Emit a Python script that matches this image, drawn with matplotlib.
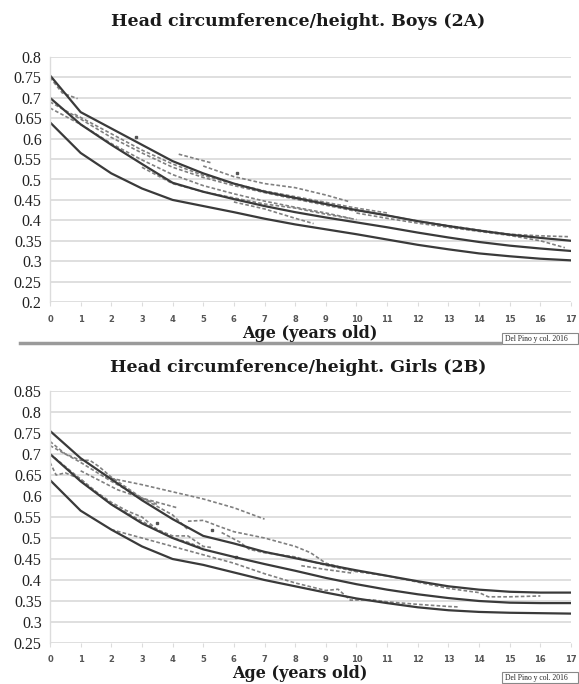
import matplotlib
matplotlib.use("Agg")
import matplotlib.pyplot as plt
from matplotlib.patches import Rectangle
from matplotlib.lines import Line2D

# ---------------- data: Boys (2A) ----------------
ages = list(range(0, 18))
boys_upper = [0.755, 0.665, 0.625, 0.585, 0.545, 0.515, 0.49, 0.47, 0.455, 0.44,
              0.425, 0.412, 0.398, 0.386, 0.375, 0.365, 0.357, 0.35]
boys_mid = [0.70, 0.635, 0.585, 0.538, 0.492, 0.47, 0.452, 0.435, 0.42, 0.407,
            0.395, 0.383, 0.37, 0.358, 0.347, 0.338, 0.331, 0.325]
boys_low = [0.64, 0.565, 0.515, 0.478, 0.45, 0.435, 0.42, 0.404, 0.39, 0.378,
            0.366, 0.353, 0.34, 0.329, 0.319, 0.312, 0.306, 0.302]

boys_dash_x = [
    [0, 0.4, 0.9],
    [0, 1, 2, 3, 4, 5, 6, 7, 8, 9, 10],
    [0, 1, 2, 3, 4, 5, 6, 7, 8, 9, 9.8],
    [0.8, 2, 3, 4, 5, 6, 7, 8, 9, 10, 11],
    [4.2, 5.3],
    [5, 6, 7, 8, 9, 9.8],
    [6, 7, 8, 8.6],
    [10, 11, 12, 13, 14, 15, 16, 16.9],
    [10, 11, 12, 13, 14, 15, 16, 16.8],
    [3, 4, 5, 6, 7, 8, 9, 10],
]
boys_dash_y = [
    [0.75, 0.712, 0.698],
    [0.69, 0.648, 0.603, 0.565, 0.53, 0.505, 0.485, 0.468, 0.452, 0.437, 0.422],
    [0.675, 0.635, 0.588, 0.548, 0.512, 0.485, 0.465, 0.447, 0.432, 0.418, 0.405],
    [0.66, 0.612, 0.572, 0.538, 0.51, 0.49, 0.472, 0.458, 0.444, 0.43, 0.418],
    [0.562, 0.54],
    [0.533, 0.507, 0.49, 0.48, 0.462, 0.445],
    [0.445, 0.428, 0.405, 0.392],
    [0.425, 0.412, 0.398, 0.387, 0.376, 0.366, 0.362, 0.36],
    [0.418, 0.405, 0.393, 0.383, 0.373, 0.363, 0.35, 0.333],
    [0.53, 0.49, 0.47, 0.455, 0.44, 0.43, 0.415, 0.402],
]
boys_dots_x = [2.8, 6.1]
boys_dots_y = [0.603, 0.515]

# ---------------- data: Girls (2B) ----------------
girls_upper = [0.755, 0.69, 0.64, 0.59, 0.545, 0.505, 0.487, 0.467, 0.452, 0.437,
               0.423, 0.41, 0.397, 0.385, 0.377, 0.372, 0.37, 0.37]
girls_mid = [0.70, 0.635, 0.58, 0.535, 0.50, 0.473, 0.455, 0.438, 0.422, 0.405,
             0.39, 0.377, 0.366, 0.357, 0.35, 0.346, 0.345, 0.345]
girls_low = [0.638, 0.565, 0.52, 0.48, 0.45, 0.436, 0.418, 0.40, 0.385, 0.37,
             0.356, 0.345, 0.335, 0.328, 0.324, 0.322, 0.321, 0.32]

girls_dash_x = [
    [1.8, 3, 4, 5, 6, 7],
    [1.0, 2.2, 3, 4.15],
    [4.5, 5.0, 5.5, 6, 7, 8, 8.5, 9, 9.5, 10],
    [5.6, 6.2, 6.5, 7, 8, 9, 10, 11, 12, 13, 14, 14.3, 15, 16],
    [2, 3, 4, 5, 6, 7, 8, 9, 9.4, 9.8, 10.5, 11, 12, 13, 13.3],
    [8.2, 9.0, 9.9],
    [0, 0.5, 1.0, 1.3, 1.6, 2, 2.5, 3, 3.5],
    [0, 0.2, 0.5, 1, 1.5, 2, 2.5, 3, 3.5, 4, 4.5, 5, 5.3],
    [0, 0.5, 1, 1.5, 2, 2.5, 3, 3.5, 4, 4.5, 5],
    [0, 1, 2, 3, 4, 4.5],
]
girls_dash_y = [
    [0.645, 0.627, 0.61, 0.593, 0.572, 0.545],
    [0.66, 0.615, 0.595, 0.572],
    [0.54, 0.542, 0.528, 0.515, 0.50, 0.48, 0.465, 0.44, 0.43, 0.42],
    [0.513, 0.49, 0.473, 0.465, 0.455, 0.435, 0.42, 0.41, 0.395, 0.38, 0.37, 0.36, 0.36, 0.362],
    [0.52, 0.50, 0.48, 0.46, 0.44, 0.415, 0.393, 0.375, 0.378, 0.352, 0.353, 0.348, 0.342, 0.337, 0.336],
    [0.434, 0.425, 0.416],
    [0.73, 0.70, 0.685, 0.685, 0.67, 0.645, 0.62, 0.595, 0.58],
    [0.68, 0.65, 0.655, 0.64, 0.61, 0.58, 0.56, 0.54, 0.52, 0.505, 0.505, 0.48, 0.477],
    [0.70, 0.67, 0.64, 0.61, 0.585, 0.565, 0.55, 0.52, 0.50, 0.49, 0.475],
    [0.72, 0.68, 0.635, 0.595, 0.555, 0.52],
]
girls_dots_x = [6.07, 3.5, 5.3]
girls_dots_y = [0.455, 0.535, 0.52]

titles = ["Head circumference/height. Boys (2A)", "Head circumference/height. Girls (2B)"]
xlabel = "Age (years old)"
credit = "Del Pino y col. 2016"
x_ticks = list(range(0, 18))
boys_yticks = [0.2, 0.25, 0.3, 0.35, 0.4, 0.45, 0.5, 0.55, 0.6, 0.65, 0.7, 0.75, 0.8]
girls_yticks = [0.25, 0.3, 0.35, 0.4, 0.45, 0.5, 0.55, 0.6, 0.65, 0.7, 0.75, 0.8, 0.85]

W, H = 579, 684
fig = plt.figure(figsize=(W / 100, H / 100), dpi=100)
fig.patch.set_facecolor("white")

SERIF = ["Liberation Serif", "DejaVu Serif"]
BOLDSERIF = ["DejaVu Serif", "Liberation Serif"]
SOLID = "#3a3a3a"
DASH = "#808080"
GRID = "#dcdcdc"


def fx(px):
    return px / W


def fy(py):
    return 1 - py / H


def panel(rect, upper, mid, low, dx, dy, dotx, doty, yticks, ylim):
    ax = fig.add_axes(rect)
    ax.set_xlim(0, 17)
    ax.set_ylim(*ylim)
    ax.set_yticks(yticks)
    ax.set_yticklabels([("%g" % v) for v in yticks], fontfamily=SERIF, fontsize=11.5, color="#222222")
    ax.set_xticks(x_ticks)
    ax.set_xticklabels([str(v) for v in x_ticks], fontfamily="DejaVu Sans", fontsize=6,
                       fontweight="bold", color="#555555")
    ax.tick_params(axis="y", length=0, pad=6)
    ax.tick_params(axis="x", length=3, width=0.8, color=GRID, pad=6, direction="out")
    for s in ["top", "right", "bottom"]:
        ax.spines[s].set_visible(False)
    ax.spines["left"].set_color(GRID)
    ax.spines["left"].set_linewidth(1.0)
    ax.grid(axis="y", color=GRID, linewidth=1.3)
    ax.set_axisbelow(True)
    for xs, ys in zip(dx, dy):
        ax.plot(xs, ys, color=DASH, linewidth=1.2, linestyle=(0, (2.2, 1.3)))
    ax.plot(dotx, doty, linestyle="none", marker="s", markersize=2, color="#555555")
    for series in (upper, mid, low):
        ax.plot(ages, series, color=SOLID, linewidth=1.6)
    return ax


ax1 = panel([fx(50), fy(302), fx(521), (302 - 57) / H], boys_upper, boys_mid, boys_low,
            boys_dash_x, boys_dash_y, boys_dots_x, boys_dots_y, boys_yticks, (0.2, 0.8))
ax2 = panel([fx(50), fy(643), fx(521), (643 - 391) / H], girls_upper, girls_mid, girls_low,
            girls_dash_x, girls_dash_y, girls_dots_x, girls_dots_y, girls_yticks, (0.25, 0.85))

# titles
fig.text(fx(298), fy(22), titles[0], ha="center", va="center", fontfamily=BOLDSERIF,
         fontweight="bold", fontsize=12.5, color="#1a1a1a")
fig.text(fx(298), fy(368), titles[1], ha="center", va="center", fontfamily=BOLDSERIF,
         fontweight="bold", fontsize=12.5, color="#1a1a1a")

# x labels
fig.text(fx(310), fy(334), xlabel, ha="center", va="center", fontfamily=BOLDSERIF,
         fontweight="bold", fontsize=11.5, color="#1a1a1a")
fig.text(fx(300), fy(673), xlabel, ha="center", va="center", fontfamily=BOLDSERIF,
         fontweight="bold", fontsize=11.5, color="#1a1a1a")

# separator line
fig.add_artist(Line2D([fx(20), fx(500)], [fy(343), fy(343)], color="#9a9a9a", linewidth=2.5))

# credit boxes
for top in (333, 672):
    fig.add_artist(Rectangle((fx(502), fy(top + 11)), fx(76), 11 / H, facecolor="white",
                             edgecolor="#888888", linewidth=0.8))
    fig.text(fx(505), fy(top + 5.5), credit, ha="left", va="center", fontfamily=SERIF,
             fontsize=5.5, color="#222222")

fig.savefig("out.png", dpi=100, facecolor="white")
